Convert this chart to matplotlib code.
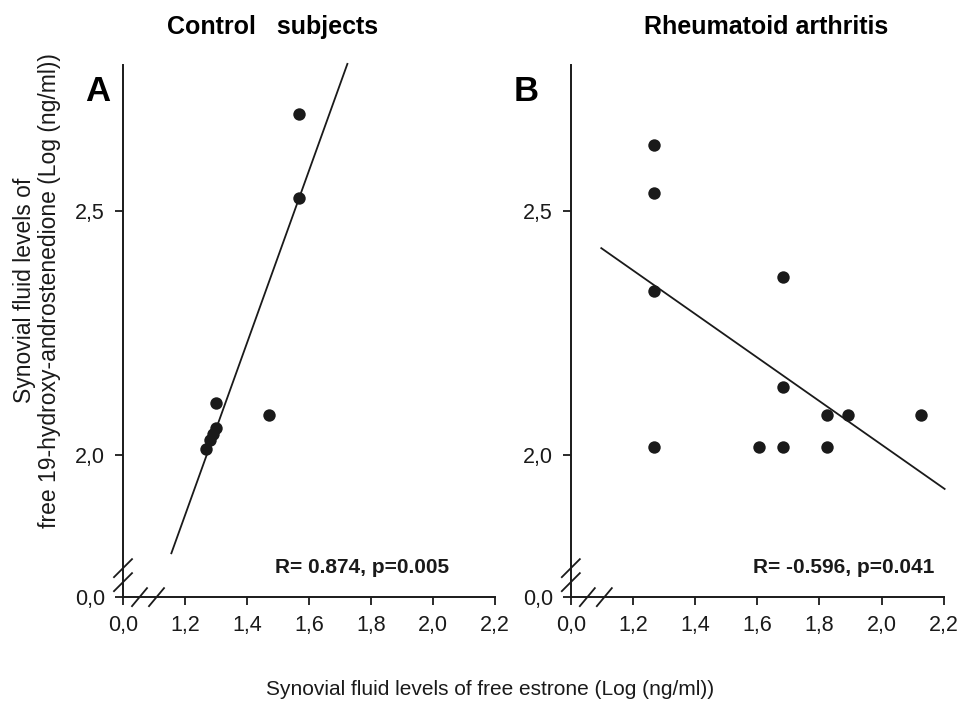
import matplotlib
matplotlib.use("Agg")
import matplotlib.pyplot as plt
import numpy as np

plt.rcParams['font.family'] = ['Liberation Sans', 'DejaVu Sans']

# panel A: control subjects
ctrl_x = [1.568, 1.568, 1.299, 1.471, 1.299, 1.290, 1.281, 1.267]
ctrl_y = [2.700, 2.526, 2.106, 2.082, 2.055, 2.042, 2.030, 2.012]
ctrl_line_x = [1.156, 1.724]
ctrl_line_y = [1.798, 2.802]

# panel B: rheumatoid arthritis
ra_x = [1.268, 1.268, 1.268, 1.268, 1.682, 1.682, 1.606, 1.682, 1.824, 1.892, 2.126, 1.824]
ra_y = [2.635, 2.538, 2.337, 2.016, 2.364, 2.140, 2.016, 2.016, 2.082, 2.082, 2.082, 2.016]
ra_line_x = [1.098, 2.203]
ra_line_y = [2.424, 1.930]

titles = ["Control   subjects", "Rheumatoid arthritis"]
letters = ["A", "B"]
stats = ["R= 0.874, p=0.005", "R= -0.596, p=0.041"]

xticks = [1.0, 1.2, 1.4, 1.6, 1.8, 2.0, 2.2]
xticklabels = ["0,0", "1,2", "1,4", "1,6", "1,8", "2,0", "2,2"]
ybottom = 1.708
yticks = [ybottom, 2.0, 2.5]
yticklabels = ["0,0", "2,0", "2,5"]

fig = plt.figure(figsize=(9.61, 7.05), dpi=100)
axA = fig.add_axes([0.128, 0.153, 0.387, 0.755])
axB = fig.add_axes([0.594, 0.153, 0.388, 0.755])

panels = [(axA, ctrl_x, ctrl_y, ctrl_line_x, ctrl_line_y),
          (axB, ra_x, ra_y, ra_line_x, ra_line_y)]
stat_x = [0.876, 0.976]

for i, (ax, x, y, lx, ly) in enumerate(panels):
    ax.scatter(x, y, s=80, color='#1a1a1a', zorder=3, linewidths=0)
    ax.plot(lx, ly, color='#1a1a1a', lw=1.3, clip_on=False)
    ax.set_xlim(1.0, 2.2)
    ax.set_ylim(ybottom, 2.80)
    ax.set_xticks(xticks)
    ax.set_xticklabels(xticklabels)
    ax.set_yticks(yticks)
    ax.set_yticklabels(yticklabels)
    ax.tick_params(direction='out', length=6, width=1.3, labelsize=15.5, pad=7,
                   colors='#1a1a1a')
    for s in ['top', 'right']:
        ax.spines[s].set_visible(False)
    for s in ['left', 'bottom']:
        ax.spines[s].set_linewidth(1.4)
        ax.spines[s].set_color('#1a1a1a')
    # axis break marks
    w = ax.get_position().width * 961
    h = ax.get_position().height * 705
    for dy in (0.0, 14.0):
        ax.plot([-9 / w, 9 / w], [(20 - dy) / h, (38 - dy) / h], transform=ax.transAxes,
                color='#1a1a1a', lw=1.3, clip_on=False)
    for dx in (0.0, 17.0):
        ax.plot([(9 + dx) / w, (24 + dx) / w], [-9 / h, 9 / h], transform=ax.transAxes,
                color='#1a1a1a', lw=1.3, clip_on=False)
    ax.text(stat_x[i], 0.056, stats[i], transform=ax.transAxes,
            ha='right', va='center', fontsize=15, fontweight='bold', color='#1a1a1a')

fig.text(0.2836, 0.962, titles[0], ha='center', va='center', fontsize=18, fontweight='bold')
fig.text(0.7976, 0.962, titles[1], ha='center', va='center', fontsize=18, fontweight='bold')
fig.text(0.102, 0.870, letters[0], ha='center', va='center', fontsize=25, fontweight='bold')
fig.text(0.548, 0.870, letters[1], ha='center', va='center', fontsize=25, fontweight='bold')

fig.text(0.0385, 0.588, "Synovial fluid levels of\nfree 19-hydroxy-androstenedione (Log (ng/ml))",
         rotation=90, ha='center', va='center', fontsize=16.5, linespacing=1.15,
         color='#1a1a1a')
fig.text(0.51, 0.022, "Synovial fluid levels of free estrone (Log (ng/ml))",
         ha='center', va='center', fontsize=15, color='#1a1a1a')

fig.savefig("out.png", dpi=100, facecolor='white')
